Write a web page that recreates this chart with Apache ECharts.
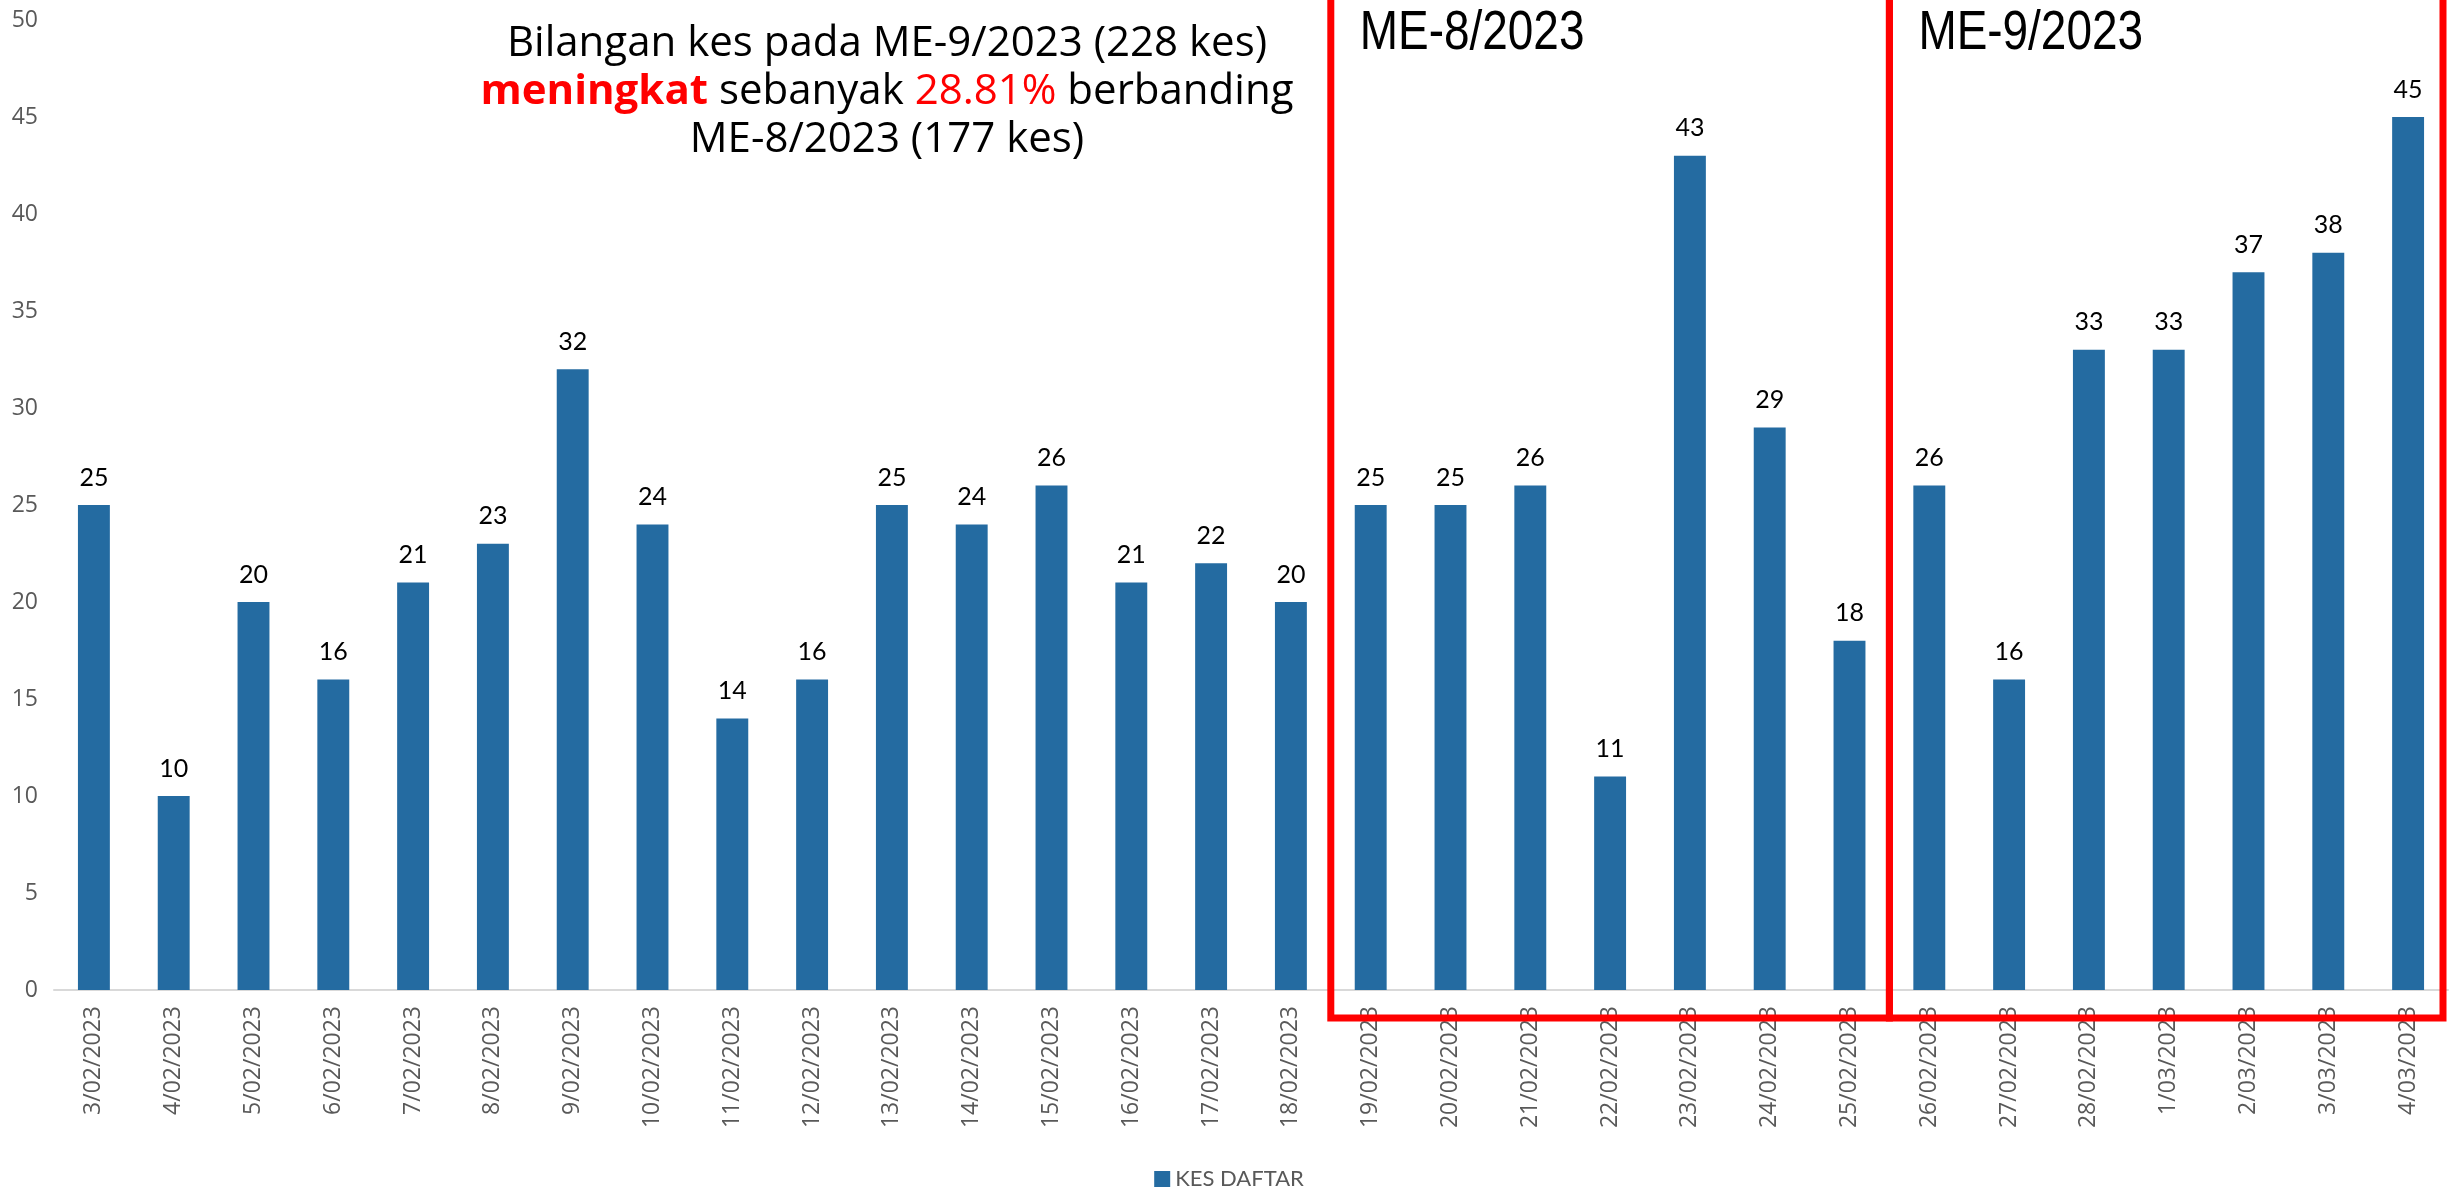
<!DOCTYPE html>
<html>

<head>
	<meta charset="utf-8">
	<title>KES DAFTAR</title>
	<style type="text/css">
	html, body {
		margin: 0;
		padding: 0;
		background: #fff;
	}

	#main {
		width: 2458px;
		height: 1192px;
	}
	</style>
</head>

<body>
	<div id="main"></div>
	<script src="https://cdn.jsdelivr.net/npm/echarts@6/dist/echarts.min.js"></script>
	<script>
	// data
	var categories = ['3/02/2023', '4/02/2023', '5/02/2023', '6/02/2023', '7/02/2023', '8/02/2023', '9/02/2023',
		'10/02/2023', '11/02/2023', '12/02/2023', '13/02/2023', '14/02/2023', '15/02/2023', '16/02/2023',
		'17/02/2023', '18/02/2023', '19/02/2023', '20/02/2023', '21/02/2023', '22/02/2023', '23/02/2023',
		'24/02/2023', '25/02/2023', '26/02/2023', '27/02/2023', '28/02/2023', '1/03/2023', '2/03/2023',
		'3/03/2023', '4/03/2023'
	];
	var kesDaftar = [25, 10, 20, 16, 21, 23, 32, 24, 14, 16, 25, 24, 26, 21, 22, 20,
		25, 25, 26, 11, 43, 29, 18,
		26, 16, 33, 33, 37, 38, 45
	];
	var yTicks = [0, 5, 10, 15, 20, 25, 30, 35, 40, 45, 50];
	var seriesName = 'KES DAFTAR';
	// the two boxed weeks: first and last category of each
	var weeks = [
		{ label: 'ME-8/2023', from: '19/02/2023', to: '25/02/2023' },
		{ label: 'ME-9/2023', from: '26/02/2023', to: '4/03/2023' }
	];

	var grey = '#595959';
	var myChart = echarts.init(document.getElementById('main'));

	var option = {
		backgroundColor: '#fff',
		animation: false,
		grid: {
			left: 54,
			right: 10,
			top: 20,
			bottom: 202
		},
		legend: {
			bottom: 2,
			left: 'center',
			padding: 0,
			icon: 'rect',
			itemWidth: 16,
			itemHeight: 16,
			itemGap: 8,
			textStyle: {
				color: grey,
				fontSize: 22,
				fontFamily: 'Lato'
			},
			data: [seriesName]
		},
		xAxis: {
			type: 'category',
			data: categories,
			axisLine: {
				lineStyle: { color: '#d9d9d9', width: 2 }
			},
			axisTick: {
				length: 8,
				lineStyle: { color: '#d9d9d9', width: 2 }
			},
			axisLabel: {
				rotate: 90,
				margin: 16,
				color: grey,
				fontSize: 23,
				fontFamily: 'Open Sans'
			}
		},
		yAxis: {
			type: 'value',
			min: yTicks[0],
			max: yTicks[yTicks.length - 1],
			interval: yTicks[1] - yTicks[0],
			splitLine: { show: false },
			axisLine: { show: false },
			axisTick: { show: false },
			axisLabel: {
				margin: 16,
				color: grey,
				fontSize: 23,
				fontFamily: 'Open Sans'
			}
		},
		series: [{
			name: seriesName,
			type: 'bar',
			data: kesDaftar,
			barWidth: '40%',
			itemStyle: { color: '#246ba1' },
			label: {
				show: true,
				position: 'top',
				distance: 15,
				color: '#000',
				fontSize: 25,
				fontFamily: 'Lato'
			}
		}]
	};
	myChart.setOption(option);

	// red boxes + headings, placed from the axis scale
	function drawBoxes() {
		var c0 = myChart.convertToPixel({ xAxisIndex: 0 }, categories[0]);
		var c1 = myChart.convertToPixel({ xAxisIndex: 0 }, categories[1]);
		var half = (c1 - c0) / 2;
		var y0 = myChart.convertToPixel({ yAxisIndex: 0 }, 0);
		var boxBottom = y0 + 28;
		var axisEnd = myChart.convertToPixel({ xAxisIndex: 0 }, categories[categories.length - 1]) + half;
		var items = [];
		weeks.forEach(function(w) {
			var left = myChart.convertToPixel({ xAxisIndex: 0 }, w.from) - half;
			var right = myChart.convertToPixel({ xAxisIndex: 0 }, w.to) + half;
			if (right > axisEnd - 5) right = axisEnd - 5;
			items.push({
				type: 'rect',
				z: 100,
				shape: { x: left, y: -20, width: right - left, height: boxBottom + 20 },
				style: { fill: 'none', stroke: '#ff0000', lineWidth: 7 }
			});
			// narrow sans: squeeze Liberation Sans sideways
			items.push({
				type: 'text',
				z: 100,
				x: left + 29,
				y: 6,
				scaleX: 0.82,
				style: {
					text: w.label,
					fill: '#000',
					font: '56px "Liberation Sans"',
					verticalAlign: 'top'
				}
			});
		});
		// summary note
		items.push({
			type: 'text',
			z: 100,
			x: 887,
			y: 92,
			style: {
				text: 'Bilangan kes pada ME-9/2023 (228 kes)\n{b|meningkat} sebanyak {r|28.81%} berbanding\nME-8/2023 (177 kes)',
				fill: '#000',
				fontSize: 42,
				fontFamily: 'Open Sans',
				lineHeight: 48,
				align: 'center',
				verticalAlign: 'middle',
				rich: {
					b: { fill: '#ff0000', fontSize: 42, fontFamily: 'Open Sans', fontWeight: 'bold', lineHeight: 48 },
					r: { fill: '#ff0000', fontSize: 42, fontFamily: 'Open Sans', lineHeight: 48 }
				}
			}
		});
		myChart.setOption({ graphic: items });
	}
	drawBoxes();
	</script>
</body>

</html>
